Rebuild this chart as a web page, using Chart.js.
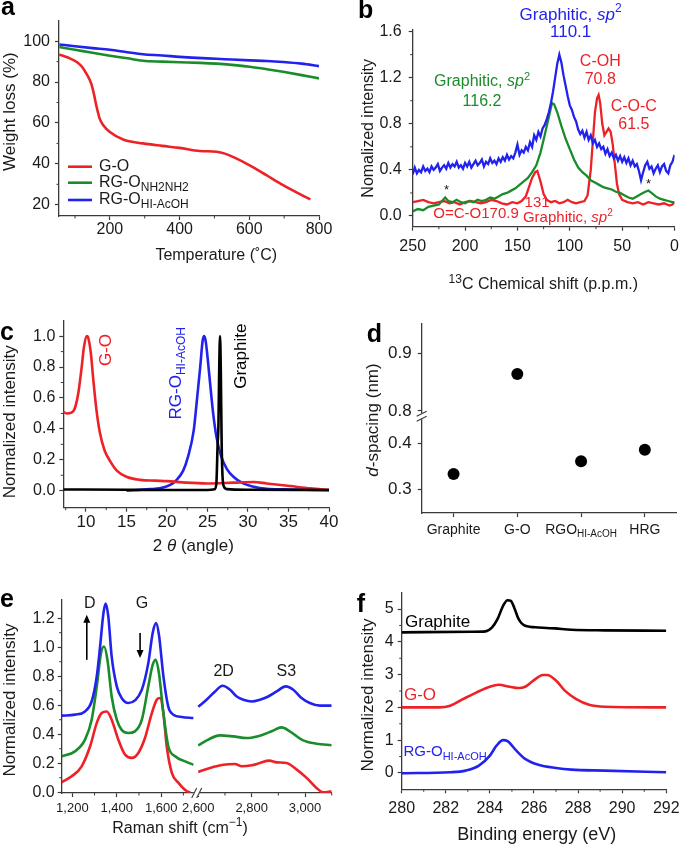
<!DOCTYPE html>
<html>
<head>
<meta charset="utf-8">
<title>Graphene oxide characterisation</title>
<script src="https://cdn.jsdelivr.net/npm/chart.js@4.4.1/dist/chart.umd.min.js"></script>
<style>
  html, body { margin: 0; padding: 0; background: #fff; }
  #figure { position: relative; width: 685px; height: 847px; overflow: hidden; background: #fff; }
  #figure canvas { position: absolute; }
</style>
</head>
<body>
<div id="figure">
  <canvas id="chartA" width="340" height="280" style="left:0;top:0"></canvas>
  <canvas id="chartB" width="345" height="300" style="left:340px;top:0"></canvas>
  <canvas id="chartC" width="340" height="280" style="left:0;top:280px"></canvas>
  <canvas id="chartD" width="345" height="280" style="left:340px;top:280px"></canvas>
  <canvas id="chartE" width="340" height="287" style="left:0;top:560px"></canvas>
  <canvas id="chartF" width="345" height="287" style="left:340px;top:560px"></canvas>
</div>
<script>
const FONT = '"Liberation Sans", Arial, Helvetica, sans-serif';
const INK = '#1a1a1a';
const AXIS = '#3a3a3a';
const RED = '#ec2227';
const GREEN = '#1b8c2c';
const BLUE = '#2222ee';

// ---- a: TGA
const tgaTempGO = [55, 80, 105, 120, 133, 147, 155, 162, 171, 181, 200, 238, 295, 350, 400, 458, 506, 530, 553, 601, 649, 697, 745, 775];
const tgaWeightGO = [93.5, 92.0, 89.8, 87.5, 84.0, 79.0, 73.5, 67.8, 62.0, 58.9, 55.6, 51.9, 50.0, 48.8, 47.8, 46.3, 45.9, 45.0, 43.4, 39.3, 34.5, 29.6, 25.2, 22.6];
const tgaTempNH = [55, 100, 150, 200, 250, 295, 350, 400, 458, 506, 550, 601, 650, 697, 750, 800];
const tgaWeightNH = [97.1, 95.8, 94.3, 92.9, 91.6, 90.4, 90.0, 89.7, 89.4, 89.0, 88.4, 87.5, 86.3, 85.0, 83.4, 81.8];
const tgaTempHI = [55, 100, 150, 200, 250, 295, 350, 400, 450, 505, 550, 601, 650, 697, 750, 800];
const tgaWeightHI = [98.4, 97.5, 96.6, 95.8, 94.6, 93.6, 93.0, 92.3, 91.8, 91.4, 91.0, 90.6, 90.3, 89.8, 89.0, 87.8];
const tgaTicksX = [200, 400, 600, 800];
const tgaMinorX = [100, 300, 500, 700];
const tgaTicksY = [20, 40, 60, 80, 100];
const tgaMinorY = [30, 50, 70, 90];
const tgaNames = ['G-O', 'RG-O_{NH2NH2}', 'RG-O_{HI-AcOH}'];

// ---- b: 13C NMR
const nmrShiftHI = [250, 248, 246, 244, 242, 240, 238, 236, 234, 232, 230, 228, 226, 224, 222, 220, 218, 216, 214, 212,
  210, 208, 206, 204, 202, 200, 198, 196, 194, 192, 190, 188, 186, 184, 182, 180, 178, 176, 174, 172,
  170, 168, 166, 164, 162, 160, 158, 156, 154, 152, 150, 148, 146, 144, 142, 140, 138, 136, 134, 132,
  130, 128, 126, 124, 122, 120, 118, 116, 114, 112, 110, 108, 106, 104, 102, 100, 98, 96, 94, 92,
  90, 88, 86, 84, 82, 80, 78, 76, 74, 72, 70, 68, 66, 64, 62, 60, 58, 56, 54, 52,
  50, 48, 46, 44, 42, 40, 38, 36, 34, 32, 30, 28, 26, 24, 22, 20, 18, 16, 14, 12,
  10, 8, 6, 4, 2, 0];
const nmrHI = [0.36, 0.42, 0.37, 0.40, 0.38, 0.43, 0.39, 0.41, 0.38, 0.43, 0.40, 0.42, 0.45, 0.39, 0.42, 0.44, 0.41, 0.46, 0.42, 0.45,
  0.43, 0.47, 0.42, 0.44, 0.41, 0.46, 0.43, 0.47, 0.42, 0.45, 0.48, 0.44, 0.46, 0.49, 0.43, 0.47, 0.45, 0.50, 0.46, 0.48,
  0.45, 0.50, 0.47, 0.51, 0.48, 0.53, 0.49, 0.52, 0.50, 0.55, 0.62, 0.53, 0.57, 0.55, 0.60, 0.57, 0.64, 0.60, 0.70, 0.66,
  0.73, 0.69, 0.76, 0.79, 0.84, 0.90, 0.98, 1.08, 1.20, 1.32, 1.40, 1.33, 1.22, 1.13, 1.04, 0.96, 0.92, 0.86, 0.82, 0.75,
  0.71, 0.74, 0.68, 0.73, 0.66, 0.70, 0.63, 0.66, 0.60, 0.63, 0.58, 0.60, 0.54, 0.58, 0.52, 0.55, 0.50, 0.53, 0.48, 0.52,
  0.47, 0.51, 0.46, 0.50, 0.44, 0.48, 0.43, 0.45, 0.39, 0.31, 0.38, 0.44, 0.47, 0.41, 0.43, 0.37, 0.41, 0.44, 0.38, 0.43,
  0.45, 0.39, 0.37, 0.44, 0.47, 0.53];
const nmrShiftNH = [250, 245, 240, 235, 230, 225, 222, 219, 216, 212, 208, 204, 200, 196, 192, 188, 184, 180, 176, 172, 168, 164, 160, 156, 152, 148, 144, 140, 136, 132, 128, 124, 120, 117, 115, 112, 108, 104, 100, 96, 92, 88, 84, 80, 76, 72, 68, 64, 60, 56, 52, 48, 44, 40, 36, 32, 28, 25, 22, 18, 14, 10, 6, 2, 0];
const nmrNH = [0.04, 0.06, 0.05, 0.08, 0.09, 0.10, 0.13, 0.16, 0.13, 0.12, 0.14, 0.12, 0.11, 0.13, 0.12, 0.14, 0.13, 0.14, 0.16, 0.15, 0.17, 0.19, 0.20, 0.22, 0.24, 0.27, 0.30, 0.33, 0.38, 0.44, 0.55, 0.70, 0.86, 0.98, 0.97, 0.90, 0.78, 0.67, 0.58, 0.49, 0.42, 0.38, 0.35, 0.31, 0.29, 0.27, 0.25, 0.24, 0.23, 0.21, 0.20, 0.18, 0.16, 0.15, 0.17, 0.19, 0.21, 0.22, 0.20, 0.17, 0.15, 0.14, 0.13, 0.12, 0.12];
const nmrShiftGO = [250, 245, 240, 235, 230, 225, 220, 215, 210, 205, 200, 195, 190, 185, 180, 175, 170, 165, 160, 155, 150, 146, 142, 139, 136, 133, 131, 128, 125, 122, 118, 114, 110, 106, 102, 98, 94, 90, 86, 83, 80, 78, 76, 74, 72.5, 71, 69, 67, 65, 63, 61, 59, 57, 55, 53, 50, 45, 40, 35, 30, 25, 20, 15, 10, 5, 2, 0];
const nmrGO = [0.12, 0.13, 0.14, 0.12, 0.11, 0.12, 0.13, 0.11, 0.12, 0.10, 0.12, 0.13, 0.12, 0.11, 0.12, 0.14, 0.13, 0.11, 0.10, 0.12, 0.11, 0.13, 0.17, 0.25, 0.33, 0.38, 0.39, 0.30, 0.19, 0.14, 0.12, 0.13, 0.11, 0.12, 0.14, 0.12, 0.11, 0.12, 0.13, 0.18, 0.40, 0.65, 0.90, 1.02, 1.05, 0.98, 0.80, 0.70, 0.73, 0.76, 0.73, 0.62, 0.45, 0.28, 0.19, 0.14, 0.12, 0.11, 0.12, 0.10, 0.12, 0.11, 0.10, 0.11, 0.09, 0.10, 0.12];
const nmrTicksX = [250, 200, 150, 100, 50, 0];
const nmrMinorX = [225, 175, 125, 75, 25];
const nmrTicksY = [0, 0.4, 0.8, 1.2, 1.6];
const nmrMinorY = [0.2, 0.6, 1.0, 1.4];

// ---- c: XRD
const xrdAngleGO = [7.2, 7.6, 8.2, 8.6, 9.05, 9.47, 9.75, 10.1, 10.3, 10.6, 10.9, 11.3, 11.7, 12.3, 13, 13.8, 15, 16.7, 18.5, 20, 22.4, 24.9, 28.2, 30.7, 32.3, 35.2, 37.7, 40];
const xrdGO = [0.51, 0.50, 0.505, 0.53, 0.63, 0.80, 0.93, 1.0, 0.985, 0.89, 0.72, 0.52, 0.38, 0.26, 0.19, 0.13, 0.09, 0.07, 0.065, 0.062, 0.052, 0.047, 0.052, 0.056, 0.047, 0.03, 0.015, 0.004];
const xrdAngleHI = [15, 17.9, 19.1, 20.4, 21.2, 22, 22.6, 23.3, 23.7, 24.1, 24.4, 24.6, 24.8, 25.2, 25.7, 26.1, 26.7, 27.4, 28.2, 29.4, 30.7, 32.3, 34.4, 40];
const xrdHI = [0.0, 0.01, 0.015, 0.037, 0.07, 0.13, 0.22, 0.39, 0.59, 0.80, 0.97, 1.0, 0.96, 0.76, 0.50, 0.35, 0.22, 0.14, 0.09, 0.047, 0.026, 0.013, 0.009, 0.004];
const xrdAngleGr = [7.2, 15, 20, 25, 25.9, 26.1, 26.25, 26.35, 26.45, 26.55, 26.65, 26.75, 26.85, 27.0, 27.4, 30, 40];
const xrdGr = [0.008, 0.006, 0.005, 0.005, 0.01, 0.05, 0.3, 0.42, 0.8, 1.0, 0.75, 0.3, 0.1, 0.03, 0.01, 0.006, 0.005];
const xrdTicksX = [10, 15, 20, 25, 30, 35, 40];
const xrdMinorX = [7.5, 12.5, 17.5, 22.5, 27.5, 32.5, 37.5];
const xrdTicksY = [0, 0.2, 0.4, 0.6, 0.8, 1.0];
const xrdMinorY = [0.1, 0.3, 0.5, 0.7, 0.9];

// ---- d: d-spacing
const dCategories = ['Graphite', 'G-O', 'RGO_{HI-AcOH}', 'HRG'];
const dSpacing = [0.334, 0.864, 0.361, 0.386];
const dTicksLow = [0.3, 0.4];
const dTicksUp = [0.8, 0.9];

// ---- e: Raman (two windows of the shift axis)
const ramanLoShiftHI = [1152, 1212, 1257, 1287, 1310, 1325, 1340, 1350, 1362, 1377, 1400, 1422, 1452, 1482, 1513, 1542, 1562, 1577, 1590, 1610, 1632, 1655, 1693, 1745];
const ramanLoHI = [0.528, 0.535, 0.557, 0.626, 0.80, 1.005, 1.235, 1.30, 1.21, 0.936, 0.73, 0.65, 0.615, 0.633, 0.707, 0.89, 1.10, 1.166, 1.085, 0.80, 0.59, 0.535, 0.519, 0.512];
const ramanLoShiftNH = [1152, 1212, 1257, 1287, 1310, 1329, 1343, 1358, 1377, 1400, 1422, 1452, 1482, 1513, 1542, 1562, 1576, 1590, 1610, 1632, 1663, 1708, 1745];
const ramanLoNH = [0.248, 0.282, 0.363, 0.50, 0.73, 0.96, 1.005, 0.913, 0.66, 0.50, 0.43, 0.409, 0.42, 0.50, 0.73, 0.88, 0.913, 0.82, 0.546, 0.317, 0.248, 0.213, 0.19];
const ramanLoShiftGO = [1152, 1197, 1242, 1280, 1310, 1332, 1355, 1377, 1407, 1437, 1468, 1497, 1527, 1558, 1580, 1595, 1610, 1625, 1648, 1678, 1716, 1731];
const ramanLoGO = [0.069, 0.11, 0.179, 0.317, 0.478, 0.546, 0.557, 0.50, 0.363, 0.26, 0.237, 0.271, 0.374, 0.546, 0.638, 0.65, 0.546, 0.317, 0.134, 0.065, 0.007, 0.0];
const ramanHiShiftHI = [2600, 2631, 2663, 2691, 2719, 2744, 2769, 2800, 2831, 2862, 2894, 2928, 2956, 2987, 3018, 3056, 3100];
const ramanHiHI = [0.59, 0.638, 0.695, 0.734, 0.707, 0.66, 0.638, 0.626, 0.638, 0.66, 0.695, 0.73, 0.707, 0.65, 0.615, 0.597, 0.597];
const ramanHiShiftNH = [2600, 2637, 2681, 2731, 2781, 2831, 2875, 2912, 2943, 2993, 3043, 3100];
const ramanHiNH = [0.324, 0.363, 0.392, 0.385, 0.374, 0.39, 0.42, 0.447, 0.42, 0.358, 0.335, 0.324];
const ramanHiShiftGO = [2600, 2644, 2694, 2737, 2763, 2800, 2831, 2866, 2894, 2931, 2969, 3006, 3043, 3068, 3100];
const ramanHiGO = [0.14, 0.168, 0.19, 0.195, 0.179, 0.186, 0.202, 0.218, 0.206, 0.202, 0.156, 0.099, 0.03, 0.0, 0.007];
const ramanTicksLo = [1200, 1400, 1600];
const ramanMinorLo = [1300, 1500, 1700];
const ramanTicksHi = [2600, 2800, 3000];
const ramanMinorHi = [2700, 2900, 3100];
const ramanTicksY = [0, 0.2, 0.4, 0.6, 0.8, 1.0, 1.2];
const ramanMinorY = [0.1, 0.3, 0.5, 0.7, 0.9, 1.1];

// ---- f: XPS C1s
const xpsEnergyGr = [280, 283.2, 283.8, 284.1, 284.35, 284.6, 284.8, 284.95, 285.1, 285.3, 285.6, 286.2, 286.95, 287.7, 289.2, 292];
const xpsGr = [4.29, 4.31, 4.32, 4.44, 4.70, 5.10, 5.27, 5.25, 5.05, 4.70, 4.49, 4.44, 4.41, 4.37, 4.35, 4.34];
const xpsEnergyGO = [280, 281.7, 282.2, 282.8, 283.4, 284, 284.4, 284.9, 285.3, 285.6, 286, 286.4, 286.6, 287, 287.4, 287.9, 288.5, 289.2, 292];
const xpsGO = [2.0, 2.0, 2.05, 2.26, 2.46, 2.63, 2.69, 2.63, 2.59, 2.63, 2.83, 2.99, 2.99, 2.82, 2.51, 2.26, 2.08, 2.02, 2.0];
const xpsEnergyHI = [280, 282.2, 282.9, 283.5, 284, 284.3, 284.6, 284.8, 285.2, 285.6, 286.2, 287, 287.7, 289.2, 292];
const xpsHI = [-0.01, 0.02, 0.07, 0.22, 0.53, 0.83, 1.0, 0.97, 0.68, 0.43, 0.25, 0.15, 0.10, 0.07, 0.02];
const xpsTicksX = [280, 282, 284, 286, 288, 290, 292];
const xpsMinorX = [281, 283, 285, 287, 289, 291];
const xpsTicksY = [0, 1, 2, 3, 4, 5];
const xpsMinorY = [0.5, 1.5, 2.5, 3.5, 4.5];

// ---------- helpers
const f1 = v => v.toFixed(1);
const fComma = v => v.toLocaleString('en-US');
const pts = (xs, ys) => xs.map((x, i) => ({ x, y: ys[i] }));

function curve(xs, ys, color, extra) {
  return Object.assign({
    data: pts(xs, ys), borderColor: color, borderWidth: 2.6, pointRadius: 0,
    fill: false, cubicInterpolationMode: 'monotone'
  }, extra || {});
}

function axis(pos, min, max, ticks, size, o = {}) {
  const horiz = pos === 'bottom';
  return {
    type: 'linear', position: pos, min, max, reverse: !!o.reverse,
    stack: o.stack, stackWeight: o.weight, weight: o.order || 0,
    afterBuildTicks: s => { s.ticks = ticks.map(v => ({ value: v })); },
    afterFit: s => { if (horiz) s.height = size; else s.width = size; },
    grid: { drawOnChartArea: false, drawTicks: true, tickLength: 4, tickColor: AXIS, tickWidth: 1.2 },
    border: { display: true, color: AXIS, width: 1.3 },
    ticks: {
      color: INK, font: { family: FONT, size: o.font || 16 }, padding: o.pad ?? 2,
      autoSkip: false, maxRotation: 0, callback: o.fmt || (v => String(v))
    }
  };
}

function opts(pad, scales) {
  return {
    responsive: false, animation: false, events: [],
    layout: { padding: Object.assign({ left: 0, bottom: 0 }, pad) },
    plugins: { legend: { display: false }, tooltip: { enabled: false } },
    scales
  };
}

// tiny markup: _{sub}  ^{sup}  [italic]
function parse(str) {
  return str.split(/(_\{[^}]*\}|\^\{[^}]*\}|\[[^\]]*\])/).filter(Boolean).map(tok => {
    if (tok.startsWith('_{')) return { t: tok.slice(2, -1), sub: true };
    if (tok.startsWith('^{')) return { t: tok.slice(2, -1), sup: true };
    if (tok.startsWith('[')) return { t: tok.slice(1, -1), it: true };
    return { t: tok };
  });
}

function rich(ctx, str, x, y, o = {}) {
  const size = o.size || 16;
  const segs = parse(str);
  const fontFor = s => (s.it ? 'italic ' : '') + (o.bold ? 'bold ' : '') +
    Math.round(s.sub || s.sup ? size * 0.72 : size) + 'px ' + FONT;
  let w = 0;
  segs.forEach(s => { ctx.font = fontFor(s); s.w = ctx.measureText(s.t).width; w += s.w; });
  ctx.save();
  ctx.translate(x, y);
  if (o.rotate) ctx.rotate(-Math.PI / 2);
  ctx.fillStyle = o.color || INK;
  ctx.textBaseline = 'middle';
  ctx.textAlign = 'left';
  let cx = o.align === 'left' ? 0 : o.align === 'right' ? -w : -w / 2;
  segs.forEach(s => {
    ctx.font = fontFor(s);
    const dy = s.sub ? size * 0.32 : s.sup ? -size * 0.35 : 0;
    ctx.fillText(s.t, cx, dy);
    cx += s.w;
  });
  ctx.restore();
}

function letter(ctx, t, x, y) {
  ctx.save();
  ctx.font = 'bold 25px ' + FONT;
  ctx.fillStyle = '#000';
  ctx.textBaseline = 'alphabetic';
  ctx.textAlign = 'left';
  ctx.fillText(t, x, y);
  ctx.restore();
}

function minor(ctx, scale, values) {
  ctx.save();
  ctx.strokeStyle = AXIS;
  ctx.lineWidth = 1;
  values.forEach(v => {
    const p = scale.getPixelForValue(v);
    ctx.beginPath();
    if (scale.isHorizontal()) { ctx.moveTo(p, scale.top); ctx.lineTo(p, scale.top + 2.5); }
    else { ctx.moveTo(scale.right, p); ctx.lineTo(scale.right - 2.5, p); }
    ctx.stroke();
  });
  ctx.restore();
}

function breakH(ctx, x, y) {
  ctx.save();
  ctx.fillStyle = '#fff';
  ctx.fillRect(x - 3, y - 3, 6, 6);
  ctx.strokeStyle = AXIS;
  ctx.lineWidth = 1.1;
  [-2.5, 2.5].forEach(o => {
    ctx.beginPath(); ctx.moveTo(x + o - 2.5, y + 5); ctx.lineTo(x + o + 2.5, y - 5); ctx.stroke();
  });
  ctx.restore();
}

function breakV(ctx, x, y) {
  ctx.save();
  ctx.fillStyle = '#fff';
  ctx.fillRect(x - 3, y - 3, 6, 6);
  ctx.strokeStyle = AXIS;
  ctx.lineWidth = 1.1;
  [-2.5, 2.5].forEach(o => {
    ctx.beginPath(); ctx.moveTo(x - 5, y + o + 2.5); ctx.lineTo(x + 5, y + o - 2.5); ctx.stroke();
  });
  ctx.restore();
}

function arrow(ctx, x, y0, y1) {
  ctx.save();
  ctx.strokeStyle = '#000';
  ctx.fillStyle = '#000';
  ctx.lineWidth = 1.6;
  const d = y1 < y0 ? 1 : -1;
  ctx.beginPath(); ctx.moveTo(x, y0); ctx.lineTo(x, y1 + d * 6); ctx.stroke();
  ctx.beginPath(); ctx.moveTo(x, y1); ctx.lineTo(x - 3.5, y1 + d * 8); ctx.lineTo(x + 3.5, y1 + d * 8); ctx.closePath(); ctx.fill();
  ctx.restore();
}

const px = (c, xId, yId, x, y) => [c.scales[xId].getPixelForValue(x), c.scales[yId].getPixelForValue(y)];

function deco(fn) {
  return { id: 'deco', afterDraw(chart) { const ctx = chart.ctx; ctx.save(); fn(chart, ctx); ctx.restore(); } };
}

Chart.defaults.font.family = FONT;
Chart.defaults.color = INK;

// ---------- a
new Chart(document.getElementById('chartA'), {
  type: 'line',
  data: { datasets: [
    curve(tgaTempGO, tgaWeightGO, RED),
    curve(tgaTempNH, tgaWeightNH, GREEN),
    curve(tgaTempHI, tgaWeightHI, BLUE)
  ] },
  options: opts({ top: 20.7, right: 21 }, {
    x: axis('bottom', 54, 800, tgaTicksX, 64, { pad: 0 }),
    y: axis('left', 14.5, 110, tgaTicksY, 59, { pad: 5 })
  }),
  plugins: [deco((c, ctx) => {
    letter(ctx, 'a', 1, 15);
    minor(ctx, c.scales.x, tgaMinorX);
    minor(ctx, c.scales.y, tgaMinorY);
    rich(ctx, 'Weight loss (%)', 10.5, 111.7, { size: 17, rotate: true });
    rich(ctx, 'Temperature (˚C)', 216.3, 256, { size: 16 });
    const colors = [RED, GREEN, BLUE];
    const rows = [166.7, 182.7, 200];
    tgaNames.forEach((name, i) => {
      ctx.strokeStyle = colors[i];
      ctx.lineWidth = 2.6;
      ctx.beginPath(); ctx.moveTo(68, rows[i]); ctx.lineTo(92, rows[i]); ctx.stroke();
      rich(ctx, name, 99, rows[i], { size: 16, align: 'left' });
    });
  })]
});

// ---------- b
const noisy = { cubicInterpolationMode: 'default', tension: 0, borderWidth: 2.3 };
new Chart(document.getElementById('chartB'), {
  type: 'line',
  data: { datasets: [
    curve(nmrShiftHI, nmrHI, BLUE, noisy),
    curve(nmrShiftNH, nmrNH, GREEN, noisy),
    curve(nmrShiftGO, nmrGO, RED, noisy)
  ] },
  options: opts({ top: 29.3, right: 7 }, {
    x: axis('bottom', 0, 250, nmrTicksX, 73.3, { reverse: true, pad: 6 }),
    y: axis('left', -0.093, 1.62, nmrTicksY, 72.7, { pad: 7, fmt: f1 })
  }),
  plugins: [deco((c, ctx) => {
    letter(ctx, 'b', 18, 18.3);
    minor(ctx, c.scales.x, nmrMinorX);
    minor(ctx, c.scales.y, nmrMinorY);
    rich(ctx, 'Nomalized intensity', 28.3, 128.3, { size: 16, rotate: true });
    rich(ctx, '^{13}C Chemical shift (p.p.m.)', 203.3, 285, { size: 16 });
    const at = (x, y) => px(c, 'x', 'y', x, y);
    const notes = [
      ['Graphitic, [sp]^{2}', 99.2, 1.745, BLUE, 16.5],
      ['110.1', 99.2, 1.59, BLUE, 16.5],
      ['Graphitic, [sp]^{2}', 183.8, 1.163, GREEN, 15.5],
      ['116.2', 183.8, 0.99, GREEN, 15.5],
      ['C-OH', 70.9, 1.337, RED, 16],
      ['70.8', 70.9, 1.18, RED, 16],
      ['C-O-C', 38.9, 0.946, RED, 15.5],
      ['61.5', 38.9, 0.79, RED, 15.5],
      ['O=C-O170.9', 189.5, 0.02, RED, 14.5],
      ['131', 131.2, 0.113, RED, 14.5],
      ['Graphitic, [sp]^{2}', 101.9, -0.017, RED, 14.5],
      ['*', 217.7, 0.226, INK, 13],
      ['*', 24.8, 0.27, INK, 13]
    ];
    notes.forEach(([t, x, y, col, size]) => {
      const [X, Y] = at(x, y);
      rich(ctx, t, X, Y, { size, color: col });
    });
  })]
});

// ---------- c
new Chart(document.getElementById('chartC'), {
  type: 'line',
  data: { datasets: [
    curve(xrdAngleGr, xrdGr, '#000'),
    curve(xrdAngleGO, xrdGO, RED),
    curve(xrdAngleHI, xrdHI, BLUE)
  ] },
  options: opts({ top: 40.7, right: 11 }, {
    x: axis('bottom', 7.2, 40, xrdTicksX, 52.3, { pad: 0, font: 17 }),
    y: axis('left', -0.11, 1.1, xrdTicksY, 63.3, { pad: 4, fmt: f1 })
  }),
  plugins: [deco((c, ctx) => {
    letter(ctx, 'c', 0, 60);
    minor(ctx, c.scales.x, xrdMinorX);
    minor(ctx, c.scales.y, xrdMinorY);
    rich(ctx, 'Normalized intensity', 10, 141.7, { size: 17, rotate: true });
    rich(ctx, '2 [θ] (angle)', 193.3, 266.7, { size: 17 });
    const at = (x, y) => px(c, 'x', 'y', x, y);
    let p = at(12.55, 0.91); rich(ctx, 'G-O', p[0], p[1], { size: 17, color: RED, rotate: true });
    p = at(21.2, 0.76); rich(ctx, 'RG-O_{HI-AcOH}', p[0], p[1], { size: 17, color: BLUE, rotate: true });
    p = at(29.2, 0.87); rich(ctx, 'Graphite', p[0], p[1], { size: 16.5, color: '#000', rotate: true });
  })]
});

// ---------- d
const dBreak = 0.6;
const dLower = dSpacing.map(v => (v < dBreak ? v : null));
const dUpper = dSpacing.map(v => (v >= dBreak ? v : null));
const dot = { showLine: false, pointRadius: 6, pointBackgroundColor: '#000', pointBorderWidth: 0, borderColor: '#000' };
new Chart(document.getElementById('chartD'), {
  type: 'line',
  data: {
    labels: dCategories,
    datasets: [
      Object.assign({ data: dLower, yAxisID: 'yLo' }, dot),
      Object.assign({ data: dUpper, yAxisID: 'yUp' }, dot)
    ]
  },
  options: opts({ top: 43.3, right: 8.3 }, {
    x: {
      type: 'category', position: 'bottom', offset: true,
      afterFit: s => { s.height = 47; },
      grid: { offset: false, drawOnChartArea: false, drawTicks: true, tickLength: 4, tickColor: AXIS, tickWidth: 1.2 },
      border: { display: true, color: AXIS, width: 1.3 },
      ticks: { display: false }
    },
    yLo: axis('left', 0.25, 0.458, dTicksLow, 81.7, { stack: 'd', weight: 97, order: 0, pad: 6, fmt: f1, font: 17 }),
    yUp: axis('left', 0.791, 0.952, dTicksUp, 81.7, { stack: 'd', weight: 93, order: 1, pad: 6, fmt: f1, font: 17 })
  }),
  plugins: [deco((c, ctx) => {
    letter(ctx, 'd', 26.7, 61.7);
    rich(ctx, '[d]-spacing (nm)', 33.3, 140, { size: 17, rotate: true });
    const xs = c.scales.x;
    dCategories.forEach((name, i) => rich(ctx, name, xs.getPixelForTick(i), 250, { size: 14 }));
    const lo = c.scales.yLo;
    breakV(ctx, lo.right, lo.top);
  })]
});

// ---------- e
const eLo = { xAxisID: 'x1' };
const eHi = { xAxisID: 'x2' };
new Chart(document.getElementById('chartE'), {
  type: 'line',
  data: { datasets: [
    curve(ramanLoShiftHI, ramanLoHI, BLUE, eLo),
    curve(ramanLoShiftNH, ramanLoNH, GREEN, eLo),
    curve(ramanLoShiftGO, ramanLoGO, RED, eLo),
    curve(ramanHiShiftHI, ramanHiHI, BLUE, eHi),
    curve(ramanHiShiftNH, ramanHiNH, GREEN, eHi),
    curve(ramanHiShiftGO, ramanHiGO, RED, eHi)
  ] },
  options: opts({ top: 39.3, right: 8.3 }, {
    x1: axis('bottom', 1152, 1760, ramanTicksLo, 54, { stack: 'e', weight: 135, order: 0, font: 13, pad: 3.5, fmt: fComma }),
    x2: axis('bottom', 2594, 3100, ramanTicksHi, 54, { stack: 'e', weight: 135, order: 1, font: 13, pad: 3.5, fmt: fComma }),
    y: axis('left', -0.005, 1.33, ramanTicksY, 61.7, { pad: 3, fmt: f1 })
  }),
  plugins: [deco((c, ctx) => {
    letter(ctx, 'e', 0, 46.7);
    minor(ctx, c.scales.x1, ramanMinorLo);
    minor(ctx, c.scales.x2, ramanMinorHi);
    minor(ctx, c.scales.y, ramanMinorY);
    rich(ctx, 'Normalized intensity', 10, 140, { size: 17, rotate: true });
    rich(ctx, 'Raman shift (cm^{−1})', 180, 268.3, { size: 16 });
    const lo = (x, y) => px(c, 'x1', 'y', x, y);
    const hi = (x, y) => px(c, 'x2', 'y', x, y);
    let a = lo(1265, 0.913), b = lo(1265, 1.223);
    arrow(ctx, a[0], a[1], b[1]);
    a = lo(1505, 1.097); b = lo(1505, 0.925);
    arrow(ctx, a[0], a[1], b[1]);
    let p = lo(1278, 1.303); rich(ctx, 'D', p[0], p[1], { size: 16 });
    p = lo(1513, 1.303); rich(ctx, 'G', p[0], p[1], { size: 16 });
    p = hi(2695, 0.833); rich(ctx, '2D', p[0], p[1], { size: 16 });
    p = hi(2930, 0.833); rich(ctx, 'S3', p[0], p[1], { size: 16 });
    breakH(ctx, c.scales.x1.right, c.scales.x1.top);
  })]
});

// ---------- f
new Chart(document.getElementById('chartF'), {
  type: 'line',
  data: { datasets: [
    curve(xpsEnergyGr, xpsGr, '#000'),
    curve(xpsEnergyGO, xpsGO, RED),
    curve(xpsEnergyHI, xpsHI, BLUE)
  ] },
  options: opts({ top: 32.7, right: 16.7 }, {
    x: axis('bottom', 280, 292, xpsTicksX, 57.7, { pad: 5.4 }),
    y: axis('left', -0.5, 5.5, xpsTicksY, 61.7, { pad: 4 })
  }),
  plugins: [deco((c, ctx) => {
    letter(ctx, 'f', 16.7, 51.7);
    minor(ctx, c.scales.x, xpsMinorX);
    minor(ctx, c.scales.y, xpsMinorY);
    rich(ctx, 'Normalized intensity', 28.3, 135, { size: 16.5, rotate: true });
    rich(ctx, 'Binding energy (eV)', 196.7, 275, { size: 17.5 });
    const at = (x, y) => px(c, 'x', 'y', x, y);
    let p = at(280.15, 4.61); rich(ctx, 'Graphite', p[0], p[1], { size: 16.5, color: '#000', align: 'left' });
    p = at(280.1, 2.36); rich(ctx, 'G-O', p[0], p[1], { size: 17, color: RED, align: 'left' });
    p = at(280.08, 0.63); rich(ctx, 'RG-O_{HI-AcOH}', p[0], p[1], { size: 15, color: BLUE, align: 'left' });
  })]
});
</script>
</body>
</html>
